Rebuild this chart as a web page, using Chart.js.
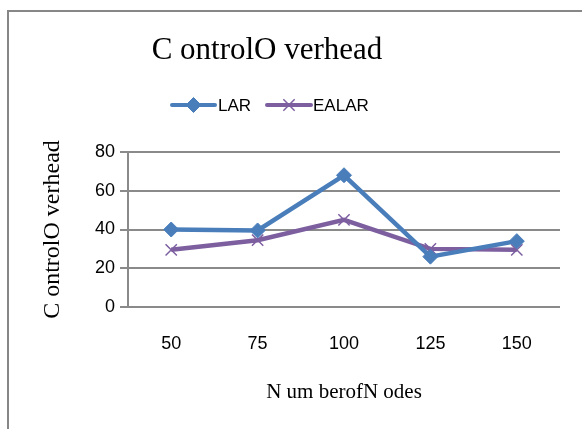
<!DOCTYPE html>
<html>
<head>
<meta charset="utf-8">
<script src="https://cdn.jsdelivr.net/npm/chart.js@4.4.1/dist/chart.umd.min.js"></script>
<style>
html,body{margin:0;padding:0;background:#fff;}
#wrap{width:582px;height:429px;position:relative;}
</style>
</head>
<body>
<div id="wrap"><canvas id="c" width="582" height="429"></canvas></div>
<script>
const categories = ['50', '75', '100', '125', '150'];
const larValues = [40, 39.5, 68, 26, 34];
const ealarValues = [29.5, 34.5, 45, 30, 29.5];
const seriesNames = ['LAR', 'EALAR'];
const yTicks = [0, 20, 40, 60, 80];
const chartTitle = 'C ontrolO verhead';
const xTitle = 'N um berofN odes';
const yTitle = 'C ontrolO verhead';

const BLUE = '#4a7ebb';
const PURPLE = '#7d5fa0';
const GRID = '#8a8a8a';

const framePlugin = {
  id: 'frame',
  beforeDraw(chart) {
    const ctx = chart.ctx;
    ctx.save();
    ctx.fillStyle = '#fff';
    ctx.fillRect(0, 0, chart.width, chart.height);
    ctx.strokeStyle = '#878787';
    ctx.lineWidth = 2;
    ctx.strokeRect(8, 11, 800, 800);
    ctx.restore();
  },
  afterDraw(chart) {
    const ctx = chart.ctx;
    ctx.save();
    // title
    ctx.fillStyle = '#000';
    ctx.font = '31px "Liberation Serif"';
    ctx.textAlign = 'center';
    ctx.textBaseline = 'middle';
    ctx.fillText(chartTitle, 267, 51);
    // legend
    const items = [
      {x0: 172, x1: 215, tx: 218, ds: chart.data.datasets[0]},
      {x0: 267, x1: 311, tx: 313, ds: chart.data.datasets[1]}
    ];
    const ly = 105;
    ctx.font = '17px "Liberation Sans"';
    ctx.textAlign = 'left';
    items.forEach(it => {
      ctx.strokeStyle = it.ds.borderColor;
      ctx.lineWidth = 4;
      ctx.lineCap = 'round';
      ctx.beginPath();
      ctx.moveTo(it.x0, ly);
      ctx.lineTo(it.x1, ly);
      ctx.stroke();
      ctx.lineCap = 'butt';
      ctx.fillStyle = it.ds.pointBackgroundColor;
      ctx.strokeStyle = it.ds.pointBorderColor;
      ctx.lineWidth = it.ds.pointBorderWidth;
      Chart.helpers.drawPoint(ctx, {
        pointStyle: it.ds.pointStyle,
        radius: it.ds.pointRadius,
        borderWidth: it.ds.pointBorderWidth,
        rotation: 0
      }, (it.x0 + it.x1) / 2, ly);
      ctx.fillStyle = '#000';
      ctx.fillText(it.ds.label, it.tx, ly + 1);
    });
    ctx.restore();
  }
};

new Chart(document.getElementById('c'), {
  type: 'line',
  data: {
    labels: categories,
    datasets: [
      {
        label: seriesNames[0],
        data: larValues,
        borderColor: BLUE,
        backgroundColor: BLUE,
        borderWidth: 4.5,
        pointStyle: 'rectRot',
        pointRadius: 7.5,
        pointBorderWidth: 1,
        pointBackgroundColor: BLUE,
        pointBorderColor: BLUE,
        tension: 0
      },
      {
        label: seriesNames[1],
        data: ealarValues,
        borderColor: PURPLE,
        backgroundColor: PURPLE,
        borderWidth: 4.5,
        pointStyle: 'crossRot',
        pointRadius: 8,
        pointBorderWidth: 1.5,
        pointBackgroundColor: PURPLE,
        pointBorderColor: PURPLE,
        tension: 0
      }
    ]
  },
  options: {
    responsive: false,
    animation: false,
    devicePixelRatio: 1,
    layout: {padding: {top: 152, right: 22, left: 0, bottom: 0}},
    plugins: {
      legend: {display: false},
      title: {display: false},
      tooltip: {enabled: false}
    },
    scales: {
      x: {
        offset: true,
        grid: {display: false, drawTicks: false},
        border: {display: false},
        ticks: {color: '#000', font: {family: 'Liberation Sans', size: 18}, padding: 26, maxRotation: 0},
        title: {display: true, text: xTitle, color: '#000', font: {family: 'Liberation Serif', size: 21}, padding: {top: 0, bottom: 24}},
        afterFit(scale) { scale.height = 122; }
      },
      y: {
        min: 0, max: 80,
        afterBuildTicks(scale) { scale.ticks = yTicks.map(v => ({value: v})); },
        grid: {color: GRID, lineWidth: 2, tickLength: 8, drawTicks: true},
        border: {display: true, color: GRID, width: 2},
        ticks: {color: '#000', font: {family: 'Liberation Sans', size: 18}, padding: 5},
        title: {display: true, text: yTitle, color: '#000', font: {family: 'Liberation Serif', size: 24}, padding: {top: 38, bottom: 0}},
        afterFit(scale) { scale.width = 128; }
      }
    }
  },
  plugins: [framePlugin]
});
</script>
</body>
</html>
